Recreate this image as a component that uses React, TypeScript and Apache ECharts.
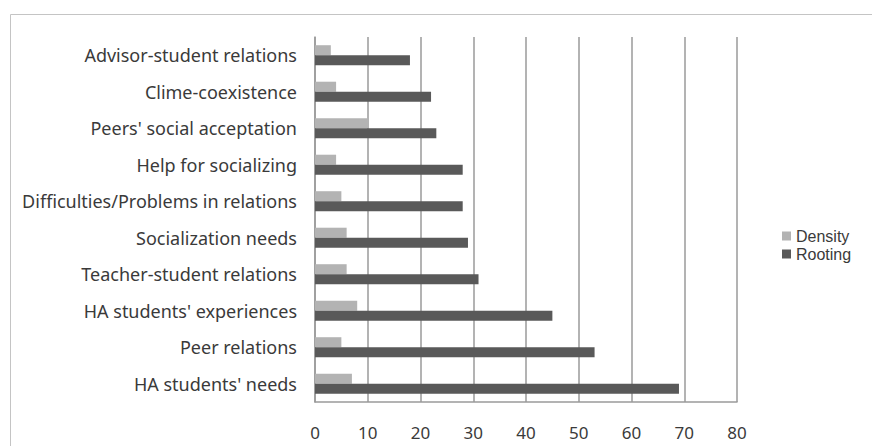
import React, { useEffect, useRef } from "react";
import * as echarts from "echarts";

// Categories listed top to bottom (the y axis is inverted)
const categories = [
  "Advisor-student relations",
  "Clime-coexistence",
  "Peers' social acceptation",
  "Help for socializing",
  "Difficulties/Problems in relations",
  "Socialization needs",
  "Teacher-student relations",
  "HA students' experiences",
  "Peer relations",
  "HA students' needs",
];

const seriesNames = ["Density", "Rooting"];
const densityValues = [3, 4, 10, 4, 5, 6, 6, 8, 5, 7];
const rootingValues = [18, 22, 23, 28, 28, 29, 31, 45, 53, 69];

const xTicks = { min: 0, max: 80, interval: 10 };

const FONT = "'Noto Sans', 'Open Sans', sans-serif";
const LEGEND_FONT = "'Liberation Sans', Arial, sans-serif";
const GRID_GREY = "#9a9a9a";
const TEXT = "#3a3a3a";

const legendEntry = (name: string, top: number) => ({
  orient: "vertical",
  left: 782,
  top,
  padding: 0,
  itemWidth: 9,
  itemHeight: 9,
  icon: "rect",
  data: [name],
  textStyle: { fontFamily: LEGEND_FONT, fontSize: 16, lineHeight: 16, color: TEXT },
});

export default function App() {
  const ref = useRef<HTMLDivElement>(null);

  useEffect(() => {
    if (!ref.current) return;
    const chart = echarts.init(ref.current, undefined, { renderer: "svg" });
    chart.setOption({
      animation: false,
      backgroundColor: "#ffffff",
      textStyle: { fontFamily: FONT },
      graphic: [
        {
          type: "rect",
          shape: { x: 10.5, y: 14.5, width: 900, height: 460 },
          style: { fill: "none", stroke: "#c4c4c4", lineWidth: 1 },
          silent: true,
          z: -10,
        },
      ],
      legend: [legendEntry(seriesNames[0], 228), legendEntry(seriesNames[1], 246)],
      grid: { left: 315, right: 135, top: 37, bottom: 44, containLabel: false },
      xAxis: {
        type: "value",
        min: xTicks.min,
        max: xTicks.max,
        interval: xTicks.interval,
        axisLine: { show: true, onZero: false, lineStyle: { color: GRID_GREY, width: 1.5 } },
        axisTick: { show: false },
        axisLabel: { fontFamily: FONT, fontSize: 17, color: TEXT, margin: 22 },
        splitLine: { show: true, lineStyle: { color: GRID_GREY, width: 1.5 } },
      },
      yAxis: {
        type: "category",
        data: categories,
        inverse: true,
        axisLine: { show: true, lineStyle: { color: GRID_GREY, width: 1.5 } },
        axisTick: { show: false },
        axisLabel: { fontFamily: FONT, fontSize: 18, color: TEXT, margin: 18 },
        splitLine: { show: false },
      },
      series: [
        {
          name: seriesNames[0],
          type: "bar",
          data: densityValues,
          itemStyle: { color: "#b3b3b3" },
          barGap: "0%",
          barCategoryGap: "45%",
        },
        {
          name: seriesNames[1],
          type: "bar",
          data: rootingValues,
          itemStyle: { color: "#595959" },
          barGap: "0%",
          barCategoryGap: "45%",
        },
      ],
    });
    return () => chart.dispose();
  }, []);

  return (
    <div
      ref={ref}
      style={{ position: "fixed", left: 0, top: 0, width: 872, height: 446 }}
    />
  );
}
